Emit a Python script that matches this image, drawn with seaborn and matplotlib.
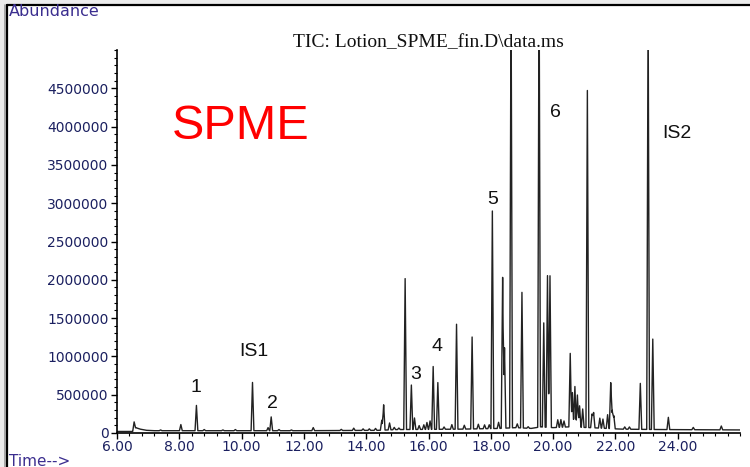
import numpy as np
import pandas as pd
import matplotlib
matplotlib.use("Agg")
import matplotlib.pyplot as plt
from matplotlib.patches import Rectangle
from matplotlib.lines import Line2D
from matplotlib.ticker import MultipleLocator, FixedLocator
import seaborn as sns

# ---- chromatogram data (retention time in min, abundance in millions) ----
peak_times = [6.55, 8.05, 8.55, 10.35, 10.85, 10.95, 14.50, 14.56, 15.25, 15.45,
              16.15, 16.30, 16.90, 17.40, 18.05, 18.38, 18.44, 18.65, 19.00, 19.55,
              19.70, 19.82, 19.90, 20.55, 20.62, 20.70, 20.78, 20.85, 20.95, 21.10,
              21.25, 21.85, 21.90, 22.80, 23.05, 23.20, 23.70]
peak_heights = [0.10, 0.08, 0.33, 0.63, 0.04, 0.18, 0.13, 0.33, 1.97, 0.58,
                0.82, 0.61, 1.37, 1.20, 2.84, 1.97, 1.05, 5.80, 1.77, 6.00,
                1.36, 1.98, 1.98, 0.96, 0.45, 0.53, 0.42, 0.28, 0.24, 4.40,
                0.18, 0.60, 0.24, 0.60, 5.60, 1.18, 0.16]

minor_times = [7.40, 8.80, 9.40, 9.80, 11.20, 11.60, 12.30, 13.20, 13.60, 13.90,
               14.10, 14.30, 14.75, 14.90, 15.05, 15.55, 15.70, 15.85, 15.95, 16.05,
               16.50, 16.75, 17.15, 17.60, 17.80, 17.95, 18.25, 18.85, 19.20, 20.15,
               20.25, 20.35, 21.30, 21.50, 21.60, 21.75, 21.95, 22.30, 22.45, 24.50,
               25.40]
minor_heights = [0.01, 0.015, 0.01, 0.015, 0.015, 0.01, 0.04, 0.015, 0.03, 0.02,
                 0.02, 0.025, 0.09, 0.03, 0.02, 0.15, 0.05, 0.06, 0.09, 0.11,
                 0.03, 0.06, 0.05, 0.06, 0.05, 0.05, 0.08, 0.05, 0.02, 0.10,
                 0.10, 0.08, 0.20, 0.13, 0.12, 0.18, 0.17, 0.03, 0.03, 0.03,
                 0.05]

baseline_times = [6.0, 6.50, 6.60, 6.75, 6.95, 7.20, 8.0, 12.0, 14.4, 15.0,
                  17.0, 18.3, 18.8, 19.3, 19.6, 20.0, 20.5, 21.2, 22.2, 23.5, 26.0]
baseline_levels = [0.02, 0.02, 0.07, 0.05, 0.035, 0.03, 0.03, 0.03, 0.035, 0.045,
                   0.05, 0.06, 0.07, 0.06, 0.08, 0.07, 0.08, 0.07, 0.05, 0.045, 0.04]

peak_labels = ["1", "IS1", "2", "3", "4", "5", "6", "IS2"]
label_times = [8.55, 10.41, 10.98, 15.60, 16.27, 18.07, 20.09, 23.98]
label_levels = [0.59, 1.06, 0.38, 0.77, 1.13, 3.05, 4.19, 3.91]

y_ticks = [0, 500000, 1000000, 1500000, 2000000, 2500000, 3000000, 3500000,
           4000000, 4500000]
x_ticks = [6.00, 8.00, 10.00, 12.00, 14.00, 16.00, 18.00, 20.00, 22.00, 24.00]

# ---- build the trace: baseline plus narrow triangular peaks ----
HALF = 0.045
all_t = np.array(peak_times + minor_times)
all_h = np.array(peak_heights + minor_heights)
verts = np.concatenate([all_t - HALF, all_t, all_t + HALF, np.array(baseline_times)])
verts = np.unique(verts)
signal = np.interp(verts, baseline_times, baseline_levels)
for t0, h0 in zip(all_t, all_h):
    signal = signal + h0 * np.clip(1 - np.abs(verts - t0) / HALF, 0, None)
trace = pd.DataFrame({"time": verts, "abundance": signal * 1e6})

# ---- figure ----
sns.set_theme(style="ticks")
plt.rcParams["font.family"] = ["Liberation Sans", "DejaVu Sans"]

W, H = 750, 467
fig = plt.figure(figsize=(7.5, 4.67), dpi=100, facecolor="#ececec")

# white panel with a dark frame on top and left
fig.patches.append(Rectangle((7 / W, 0), 1 - 7 / W, 1 - 5 / H, transform=fig.transFigure,
                             facecolor="white", edgecolor="none", zorder=-10))
fig.lines.append(Line2D([7 / W, 1], [1 - 5 / H, 1 - 5 / H], transform=fig.transFigure,
                        color="black", lw=1.6, zorder=-5))
fig.lines.append(Line2D([7 / W, 7 / W], [0, 1 - 5 / H], transform=fig.transFigure,
                        color="black", lw=1.6, zorder=-5))
fig.lines.append(Line2D([5 / W, 5 / W], [0, 1 - 5 / H], transform=fig.transFigure,
                        color="#9a9a9a", lw=1.2, zorder=-5))

ax = fig.add_axes([117 / W, 1 - 433 / H, (740 - 117) / W, (433 - 50) / H])
ax.set_zorder(1)
ax.patch.set_alpha(0)

sns.lineplot(data=trace, x="time", y="abundance", ax=ax, estimator=None, sort=False,
             color="#222222", linewidth=1.0)

ax.set_xlim(6.0, 26.0)
ax.set_ylim(0, 5000000)
ax.set_xlabel("")
ax.set_ylabel("")

for side in ("top", "right"):
    ax.spines[side].set_visible(False)
for side in ("left", "bottom"):
    ax.spines[side].set_color("black")
    ax.spines[side].set_linewidth(1.2)

ax.yaxis.set_major_locator(FixedLocator(y_ticks))
ax.yaxis.set_minor_locator(MultipleLocator(100000))
ax.xaxis.set_major_locator(FixedLocator(x_ticks))
ax.xaxis.set_minor_locator(MultipleLocator(0.4))
ax.set_yticklabels([f"{v:d}" for v in y_ticks])
ax.set_xticklabels([f"{v:.2f}" for v in x_ticks])

tick_color = "#1b2060"
ax.tick_params(axis="both", which="major", direction="out", length=4, width=1.0,
               color="black", labelcolor=tick_color, labelsize=10, pad=2)
ax.tick_params(axis="x", which="major", pad=1)
ax.tick_params(axis="both", which="minor", direction="out", length=2.5, width=0.8,
               color="black")
for lab in ax.get_xticklabels() + ax.get_yticklabels():
    lab.set_family("DejaVu Sans")

# headings
fig.text(9 / W, 1 - 11 / H, "Abundance", ha="left", va="center", fontsize=11.5,
         color="#3b2e8f", family="DejaVu Sans")
fig.text(9 / W, 1 - 461 / H, "Time-->", ha="left", va="center", fontsize=11,
         color="#3b2e8f", family="DejaVu Sans")
fig.text(428 / W, 1 - 43 / H, "TIC: Lotion_SPME_fin.D\\data.ms", ha="center",
         va="center", fontsize=14, color="#111111", family="Liberation Serif")

ax.text(7.75, 4.0e6, "SPME", color="red", fontsize=35, ha="left", va="center",
        family="Liberation Sans")

for lab, t0, lv in zip(peak_labels, label_times, label_levels):
    ax.text(t0, lv * 1e6, lab, fontsize=14, ha="center", va="center",
            color="#111111", family="Liberation Sans")

fig.savefig("out.png", dpi=100, facecolor=fig.get_facecolor())
